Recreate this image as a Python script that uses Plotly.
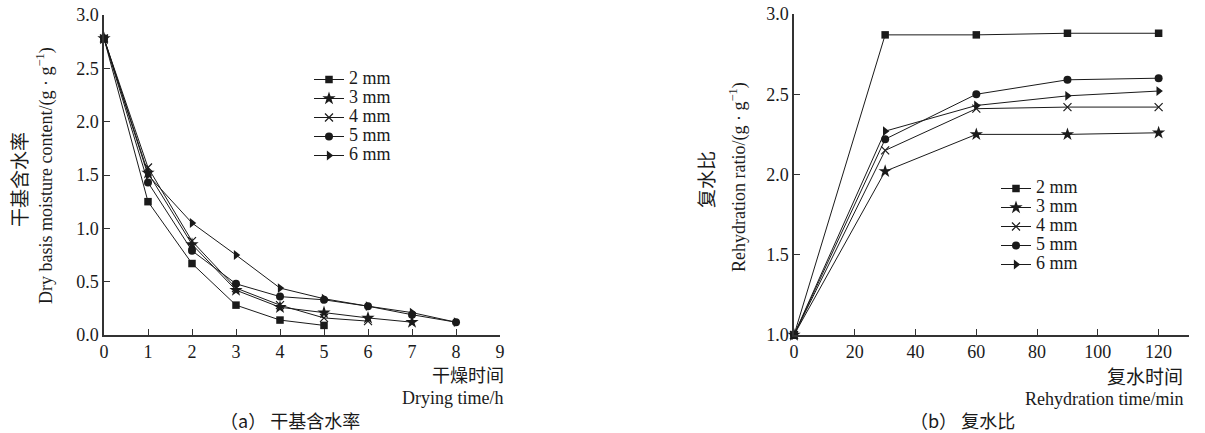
import plotly.graph_objects as go

# ---------------- data ----------------
series_names = ["2 mm", "3 mm", "4 mm", "5 mm", "6 mm"]

drying_time_h = [0, 1, 2, 3, 4, 5, 6, 7, 8]
moist_2mm = [2.78, 1.25, 0.67, 0.28, 0.14, 0.09]
moist_3mm = [2.78, 1.52, 0.85, 0.42, 0.26, 0.21, 0.16, 0.12]
moist_4mm = [2.78, 1.57, 0.88, 0.44, 0.28, 0.16, 0.13]
moist_5mm = [2.78, 1.43, 0.79, 0.48, 0.36, 0.33, 0.27, 0.19, 0.12]
moist_6mm = [2.78, 1.50, 1.05, 0.75, 0.44, 0.34, 0.27, 0.21, 0.12]

rehyd_time_min = [0, 30, 60, 90, 120]
ratio_2mm = [1.0, 2.87, 2.87, 2.88, 2.88]
ratio_3mm = [1.0, 2.02, 2.25, 2.25, 2.26]
ratio_4mm = [1.0, 2.15, 2.41, 2.42, 2.42]
ratio_5mm = [1.0, 2.22, 2.50, 2.59, 2.60]
ratio_6mm = [1.0, 2.27, 2.43, 2.49, 2.52]

left_x_ticks = [0, 1, 2, 3, 4, 5, 6, 7, 8, 9]
right_x_ticks = [0, 20, 40, 60, 80, 100, 120, 130]
right_x_ticktext = ["0", "20", "40", "60", "80", "100", "120", ""]

# ---------------- style ----------------
SERIF = '"Liberation Serif", "Times New Roman", "Noto Sans CJK SC", serif'
CJK = '"Noto Sans CJK SC", "Liberation Serif", serif'
INK = "#1a1a1a"
symbols = ["square", "star", "x-thin", "circle", "triangle-right"]
msizes = [7.5, 10, 8, 8, 8.5]

moist = [moist_2mm, moist_3mm, moist_4mm, moist_5mm, moist_6mm]
ratio = [ratio_2mm, ratio_3mm, ratio_4mm, ratio_5mm, ratio_6mm]

fig = go.Figure()

for i in reversed(range(5)):
    mk = dict(symbol=symbols[i], size=msizes[i], color=INK,
              line=dict(color=INK, width=1.2 if symbols[i] == "x-thin" else 0))
    label = '<span style="font-size:18px">%s</span>' % series_names[i]
    fig.add_trace(go.Scatter(
        x=drying_time_h[:len(moist[i])], y=moist[i], mode="lines+markers",
        name=label, line=dict(color=INK, width=1), marker=mk,
        xaxis="x", yaxis="y", legend="legend", legendrank=i + 1, cliponaxis=False))
    fig.add_trace(go.Scatter(
        x=rehyd_time_min, y=ratio[i], mode="lines+markers",
        name=label, line=dict(color=INK, width=1), marker=mk,
        xaxis="x2", yaxis="y2", legend="legend2", legendrank=i + 1, cliponaxis=False))

axis_common = dict(showgrid=False, zeroline=False, showline=True, linecolor="#333",
                   linewidth=1.5, ticks="inside", ticklen=6, tickcolor="#333",
                   tickwidth=1.2, automargin=False,
                   tickfont=dict(family=SERIF, size=18, color=INK))

fig.update_layout(
    width=1205, height=433,
    margin=dict(l=0, r=0, t=0, b=0),
    paper_bgcolor="white", plot_bgcolor="white",
    showlegend=True,
    xaxis=dict(domain=[104 / 1205, 500 / 1205], range=[0, 9], tickvals=left_x_ticks,
               anchor="y", **axis_common),
    yaxis=dict(domain=[1 - 335 / 433, 1 - 15 / 433], range=[0, 3.0], dtick=0.5,
               tickformat=".1f", anchor="x", **axis_common),
    xaxis2=dict(domain=[794 / 1205, 1189 / 1205], range=[0, 130], tickvals=right_x_ticks,
                ticktext=right_x_ticktext, anchor="y2", **axis_common),
    yaxis2=dict(domain=[1 - 335 / 433, 1 - 14 / 433], range=[1.0, 3.0], dtick=0.5,
                tickformat=".1f", anchor="x2", **axis_common),
    legend=dict(x=309 / 1205, y=1 - 65 / 433, xanchor="left", yanchor="top",
                font=dict(family=SERIF, size=11, color=INK), bgcolor="rgba(0,0,0,0)",
                itemwidth=30, tracegroupgap=0),
    legend2=dict(x=996 / 1205, y=1 - 174 / 433, xanchor="left", yanchor="top",
                 font=dict(family=SERIF, size=11, color=INK), bgcolor="rgba(0,0,0,0)",
                 itemwidth=30, tracegroupgap=0),
)

def ann(text, x, y, size, family, angle=0, xanchor="center"):
    fig.add_annotation(text=text, x=x / 1205, y=1 - y / 433, xref="paper", yref="paper",
                       showarrow=False, textangle=angle, xanchor=xanchor, yanchor="middle",
                       borderpad=0, font=dict(family=family, size=size, color=INK))

# left axis titles
ann("干基含水率", 18, 180, 19, CJK, angle=-90)
ann("Dry basis moisture content/(g · g<sup>−1</sup>)", 45, 176, 18, SERIF, angle=-90)
ann("干燥时间", 505, 374, 18, CJK, xanchor="right")
ann("Drying time/h", 505, 398, 18, SERIF, xanchor="right")
ann("（a） 干基含水率", 290, 420, 18, CJK)

# right axis titles
ann("复水比", 705, 180, 19, CJK, angle=-90)
ann("Rehydration ratio/(g · g<sup>−1</sup>)", 738, 177, 18, SERIF, angle=-90)
ann("复水时间", 1184, 375, 19, CJK, xanchor="right")
ann("Rehydration time/min", 1184, 399, 18, SERIF, xanchor="right")
ann("（b） 复水比", 962, 420, 18, CJK)

fig.write_html("out.html")
